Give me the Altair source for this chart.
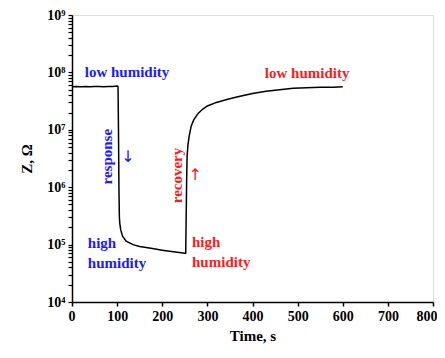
import altair as alt
import pandas as pd

# Measured curve (time in s, impedance in Ohm)
time_s = [0, 10, 20, 30, 40, 50, 60, 70, 80, 90, 100, 102, 103, 104, 105, 106, 108, 112,
          120, 135, 150, 175, 200, 225, 250, 252, 253, 254, 255, 257, 260, 264, 270, 280,
          290, 300, 320, 345, 370, 400, 430, 460, 490, 520, 550, 580, 600]
impedance = [5.6e7, 5.7e7, 5.6e7, 5.7e7, 5.6e7, 5.7e7, 5.7e7, 5.6e7, 5.7e7, 5.7e7, 5.8e7, 5.7e7,
             1.0e7, 1.0e6, 3.0e5, 2.3e5, 1.8e5, 1.4e5,
             1.15e5, 1.0e5, 9.3e4, 8.6e4, 8.0e4, 7.5e4, 7.1e4, 7.1e4, 3.0e5, 1.2e6, 3.4e6, 5.5e6,
             8.0e6, 1.15e7, 1.5e7, 1.95e7,
             2.3e7, 2.6e7, 3.0e7, 3.4e7, 3.8e7, 4.3e7, 4.7e7, 5.0e7, 5.3e7, 5.4e7, 5.5e7, 5.5e7, 5.6e7]

# Word annotations
ann_text = ["low humidity", "response", "high", "humidity",
            "recovery", "high", "humidity", "low humidity"]
ann_t = [122, 78, 35, 35, 233, 266, 266, 521]
ann_z = [1.0e8, 3.4e6, 1.07e5, 4.8e4, 1.6e6, 1.1e5, 5.0e4, 9.8e7]
ann_color = ["#1a1aff", "#1a1aff", "#1a1aff", "#1a1aff",
             "#ff1a1a", "#ff1a1a", "#ff1a1a", "#ff1a1a"]
ann_angle = [0, 270, 0, 0, 270, 0, 0, 0]
ann_align = ["center", "center", "left", "left",
             "center", "left", "left", "center"]

# Arrow annotations
arrow_text = ["\u2193", "\u2191"]
arrow_t = [124, 273]
arrow_z = [3.3e6, 1.6e6]
arrow_color = ["#1a1aff", "#ff1a1a"]

x_ticks = list(range(0, 801, 50))
y_ticks = [m * 10 ** e for e in range(4, 9) for m in range(1, 10)] + [1e9]

curve = pd.DataFrame({"t": time_s, "z": impedance})
ann = pd.DataFrame({"text": ann_text, "t": ann_t, "z": ann_z, "color": ann_color,
                    "angle": ann_angle, "align": ann_align})
arrows = pd.DataFrame({"text": arrow_text, "t": arrow_t, "z": arrow_z, "color": arrow_color})

FONT = "Liberation Serif"

x_scale = alt.Scale(domain=[0, 800], nice=False)
y_scale = alt.Scale(type="log", domain=[1e4, 1e9], nice=False)

sup = "{'4':'\u2074','5':'\u2075','6':'\u2076','7':'\u2077','8':'\u2078','9':'\u2079'}"
y_label_expr = (
    "abs(log(datum.value)/log(10) - round(log(datum.value)/log(10))) < 1e-6 ? "
    "'10' + " + sup + "[toString(round(log(datum.value)/log(10)))] : ''"
)

line = alt.Chart(curve).mark_line(color="black", strokeWidth=1.5).encode(
    x=alt.X("t:Q", scale=x_scale,
            axis=alt.Axis(title="Time, s", values=x_ticks,
                          labelExpr="datum.value % 100 == 0 ? datum.label : ''",
                          grid=False, tickSize=4, tickColor="black", domainColor="black",
                          domainWidth=1.5, tickWidth=1.5,
                          labelFont=FONT, labelFontSize=14, labelFontWeight="bold",
                          labelColor="black", labelPadding=3,
                          labelFlush=True, labelFlushOffset=4,
                          titleFont=FONT, titleFontSize=15, titleFontWeight="bold",
                          titleColor="black", titlePadding=5)),
    y=alt.Y("z:Q", scale=y_scale,
            axis=alt.Axis(title="Z, \u03a9", values=y_ticks, labelExpr=y_label_expr,
                          grid=False, tickSize=4, tickColor="black", domainColor="black",
                          domainWidth=1.5, tickWidth=1.2,
                          labelFont=FONT, labelFontSize=14, labelFontWeight="bold",
                          labelColor="black", labelPadding=3, labelFlush=False,
                          titleFont=FONT, titleFontSize=15, titleFontWeight="bold",
                          titleColor="black", titlePadding=12)),
)


def text_layer(align):
    return alt.Chart(ann).transform_filter(
        alt.datum.align == align
    ).mark_text(font=FONT, fontSize=15, fontWeight="bold", baseline="middle",
                align=align).encode(
        x=alt.X("t:Q", scale=x_scale),
        y=alt.Y("z:Q", scale=y_scale),
        text="text:N",
        color=alt.Color("color:N", scale=None),
        angle=alt.Angle("angle:Q", scale=None),
    )


arrow_layer = alt.Chart(arrows).mark_text(
    font="DejaVu Sans", fontSize=16, baseline="middle", align="center"
).encode(
    x=alt.X("t:Q", scale=x_scale),
    y=alt.Y("z:Q", scale=y_scale),
    text="text:N",
    color=alt.Color("color:N", scale=None),
)

chart = alt.layer(line, text_layer("center"), text_layer("left"), arrow_layer).properties(
    width=361, height=287,
    autosize=alt.AutoSizeParams(type="none"),
    padding={"left": 64, "top": 7, "right": 4, "bottom": 48},
).configure_view(stroke=None).configure(background="white")

chart.save("out.html", embed_options={"renderer": "svg", "actions": False})
